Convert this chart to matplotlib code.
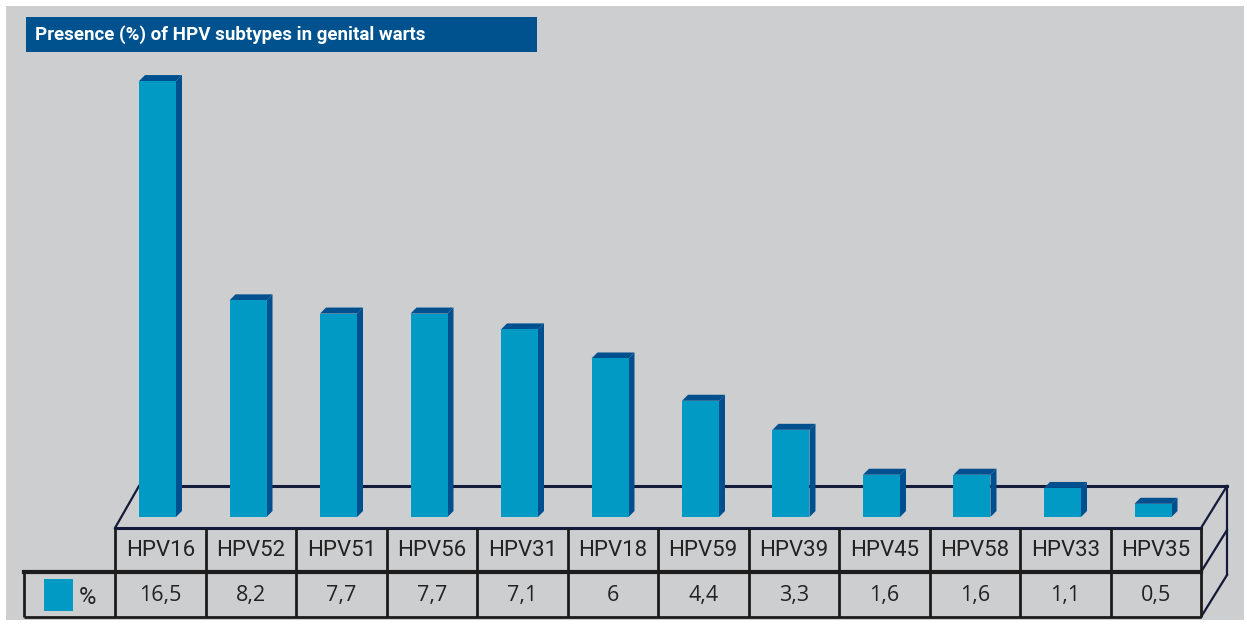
"""Presence (%) of HPV subtypes in genital warts - pseudo-3D bar chart with data table."""

import matplotlib
matplotlib.use("Agg")
import matplotlib.pyplot as plt
from matplotlib.patches import Polygon, Rectangle

SUBTYPES = ["HPV16", "HPV52", "HPV51", "HPV56", "HPV31", "HPV18",
            "HPV59", "HPV39", "HPV45", "HPV58", "HPV33", "HPV35"]
PRESENCE = [16.5, 8.2, 7.7, 7.7, 7.1, 6.0, 4.4, 3.3, 1.6, 1.6, 1.1, 0.5]
TITLE = "Presence (%) of HPV subtypes in genital warts"
ROW_LABEL = "%"

FRONT = "#009ac5"
SIDE = "#00508f"
TITLE_BG = "#00528f"
PANEL = "#cdcecf"
INK = "#1c1c1c"
NAVY = "#141a3a"

NARROW = ["Liberation Sans Narrow", "Roboto", "DejaVu Sans"]

W, H = 1247, 624
fig = plt.figure(figsize=(W / 100, H / 100), dpi=100, facecolor="white")

# background layer in pixel units
bg = fig.add_axes([0, 0, 1, 1], zorder=0)
bg.set_xlim(0, W)
bg.set_ylim(H, 0)
bg.axis("off")
bg.add_patch(Rectangle((6, 6), 1238, 614, facecolor=PANEL, edgecolor="none"))

# title box
bg.add_patch(Rectangle((26, 17), 511, 35, facecolor=TITLE_BG, edgecolor="none"))
bg.text(35, 35, TITLE, color="white", fontsize=13.5, fontweight="bold",
        family=NARROW, ha="left", va="center")

# table geometry
n = len(SUBTYPES)
t_left, t_right = 115, 1201
col_w = (t_right - t_left) / n
y_top, y_mid, y_bot = 528, 572, 617
back_y = 486
dx3, dy3 = 26, -42

line_kw = dict(color=INK, lw=2, solid_capstyle="butt")
# floor / platform outline
bg.plot([t_left + 24, t_right + dx3], [back_y, back_y], color=NAVY, lw=2.2)
bg.plot([t_left, t_left + 24], [y_top, back_y], color=NAVY, lw=1.6)
bg.plot([t_right, t_right + dx3], [y_top, back_y], color=NAVY, lw=1.6)
bg.plot([t_right + dx3, t_right + dx3], [back_y, y_bot + dy3], color=NAVY, lw=1.6)
bg.plot([t_right, t_right + dx3], [y_mid, y_mid + dy3], color=NAVY, lw=1.6)
bg.plot([t_right, t_right + dx3], [y_bot, y_bot + dy3], color=NAVY, lw=1.6)

# table grid
bg.plot([t_left, t_right], [y_top, y_top], color=NAVY, lw=2.2)
bg.plot([24, t_right], [y_mid, y_mid], color=INK, lw=3)
bg.plot([24, t_right], [y_bot, y_bot], **line_kw)
bg.plot([24, 24], [y_mid, y_bot], **line_kw)
for k in range(n + 1):
    x = t_left + k * col_w
    bg.plot([x, x], [y_top, y_bot], **line_kw)

for k, (name, val) in enumerate(zip(SUBTYPES, PRESENCE)):
    xc = t_left + (k + 0.5) * col_w
    bg.text(xc, (y_top + y_mid) / 2 + 1, name, ha="center", va="center",
            fontsize=16, color="#222222", family=NARROW)
    bg.text(xc, (y_mid + y_bot) / 2 + 1, f"{val:g}".replace(".", ","),
            ha="center", va="center", fontsize=15.5, color="#222222",
            family=["Open Sans", "DejaVu Sans"])

# legend key in the first cell
bg.add_patch(Rectangle((44, 579), 29, 32, facecolor=FRONT, edgecolor="none"))
bg.text(79, 597, ROW_LABEL, ha="left", va="center", fontsize=17,
        color="#222222", family=NARROW)

# bars layer: value 0 sits at pixel y=517
zero_px, top_px = 517, 60
ax = fig.add_axes([t_left / W, (H - zero_px) / H,
                   (t_right - t_left) / W, (zero_px - top_px) / H], zorder=1)
ax.patch.set_alpha(0)
ax.axis("off")
px_per_val = 26.42
ax.set_xlim(-0.5, n - 0.5)
ax.set_ylim(0, (zero_px - top_px) / px_per_val)

bar_w = 37 / col_w
shift = (24 + 18.5 - col_w / 2) / col_w
ddx = 6 / col_w
ddy = 6 / px_per_val
xs = [k + shift for k in range(n)]
ax.bar(xs, PRESENCE, width=bar_w, color=FRONT, edgecolor="none", zorder=3)
for x, v in zip(xs, PRESENCE):
    xl, xr = x - bar_w / 2, x + bar_w / 2
    ax.add_patch(Polygon([(xr, 0), (xr, v), (xr + ddx, v + ddy), (xr + ddx, ddy)],
                         closed=True, facecolor=SIDE, edgecolor="none", zorder=2))
    ax.add_patch(Polygon([(xl, v), (xl + ddx, v + ddy), (xr + ddx, v + ddy), (xr, v)],
                         closed=True, facecolor=SIDE, edgecolor="none", zorder=2))

fig.savefig("out.png", dpi=100, facecolor=fig.get_facecolor())
